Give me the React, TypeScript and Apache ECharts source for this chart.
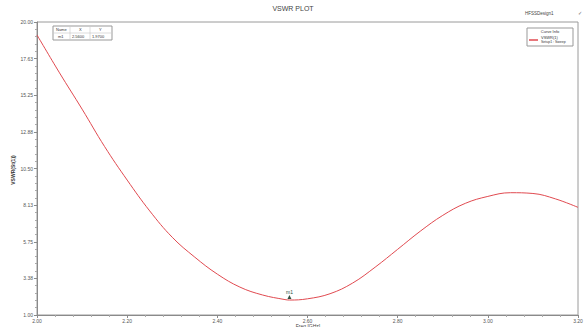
import React, { useEffect, useRef } from "react";
import * as echarts from "echarts";

const freqGHz = [2.0, 2.05, 2.1, 2.15, 2.2, 2.25, 2.3, 2.35, 2.4, 2.45, 2.5, 2.55, 2.56, 2.6, 2.65, 2.7, 2.75, 2.8, 2.85, 2.9, 2.95, 3.0, 3.05, 3.1, 3.15, 3.2];
const vswr = [19.16, 16.7, 14.35, 11.92, 9.75, 7.75, 6.04, 4.75, 3.65, 2.81, 2.3, 2.0, 1.97, 2.05, 2.38, 3.07, 4.1, 5.26, 6.43, 7.46, 8.24, 8.69, 8.93, 8.88, 8.53, 7.98];
const markerName = "m1";
const markerX = 2.56;
const markerY = 1.97;
const titleText = "VSWR PLOT";
const designName = "HFSSDesign1";
const curveName = "VSWR(1)";
const setupName = "Setup1 : Sweep";
const yTitle = "VSWR(St(1))";
const xTitle = "Freq [GHz]";

export default function App() {
  const ref = useRef<HTMLDivElement>(null);
  useEffect(() => {
    document.body.style.margin = "0";
    const chart = echarts.init(ref.current!, undefined, { renderer: "svg" });
    const font = "Liberation Sans";
    const lab = { fontFamily: font, fontSize: 5, color: "#555" };
    chart.setOption({
      animation: false,
      backgroundColor: "#ffffff",
      grid: { left: 37, right: 8, top: 22, bottom: 12, show: true, borderColor: "#9a9a9a", borderWidth: 1 },
      xAxis: {
        type: "value",
        min: 2.0,
        max: 3.2,
        interval: 0.2,
        axisLine: { lineStyle: { color: "#8a8a8a" } },
        axisTick: { show: true, length: 3, lineStyle: { color: "#8a8a8a" } },
        minorTick: { show: true, splitNumber: 5, length: 2, lineStyle: { color: "#aaa" } },
        splitLine: { show: false },
        axisLabel: { ...lab, margin: 3, formatter: (v: number) => v.toFixed(2) },
      },
      yAxis: {
        type: "value",
        min: 1,
        max: 20,
        interval: 2.375,
        axisLine: { lineStyle: { color: "#8a8a8a" } },
        axisTick: { show: true, length: 3, lineStyle: { color: "#8a8a8a" } },
        minorTick: { show: true, splitNumber: 5, length: 2, lineStyle: { color: "#aaa" } },
        splitLine: { show: false },
        axisLabel: { ...lab, margin: 4, formatter: (v: number) => v.toFixed(2) },
      },
      series: [
        {
          type: "line",
          data: freqGHz.map((f, i) => [f, vswr[i]]),
          smooth: 0.4,
          showSymbol: false,
          lineStyle: { color: "#e04a50", width: 1 },
          markPoint: {
            symbol: "triangle",
            symbolSize: 4,
            symbolOffset: [0, -3],
            itemStyle: { color: "#2f4f3f" },
            label: { show: true, position: "top", distance: 1, formatter: markerName, fontFamily: font, fontSize: 5, color: "#2f4f3f" },
            data: [{ coord: [markerX, markerY] }],
          },
        },
      ],
      graphic: [
        { type: "text", left: "center", top: 5, style: { text: titleText, fontFamily: font, fontSize: 7, fill: "#444" } },
        { type: "text", x: 525, y: 11, style: { text: designName, fontFamily: font, fontSize: 4.5, fill: "#444" } },
        { type: "text", x: 578, y: 11, style: { text: "✓", fontFamily: font, fontSize: 4.5, fill: "#666" } },
        {
          type: "text",
          x: 13,
          y: 170,
          rotation: Math.PI / 2,
          style: { text: yTitle, fontFamily: font, fontSize: 5, fontWeight: "bold", fill: "#333", align: "center", verticalAlign: "middle" },
        },
        { type: "text", x: 308, y: 323, style: { text: xTitle, fontFamily: font, fontSize: 5, fill: "#444", align: "center" } },
        // marker table
        { type: "rect", shape: { x: 53, y: 26, width: 59, height: 14 }, style: { fill: "#fff", stroke: "#999", lineWidth: 1 } },
        { type: "line", shape: { x1: 54, y1: 33, x2: 111, y2: 33 }, style: { stroke: "#bbb", lineWidth: 0.5 } },
        { type: "line", shape: { x1: 70, y1: 27, x2: 70, y2: 39 }, style: { stroke: "#bbb", lineWidth: 0.5 } },
        { type: "line", shape: { x1: 90, y1: 27, x2: 90, y2: 39 }, style: { stroke: "#bbb", lineWidth: 0.5 } },
        { type: "text", x: 56, y: 27.5, style: { text: "Name", fontFamily: font, fontSize: 4, fill: "#333" } },
        { type: "text", x: 79, y: 27.5, style: { text: "X", fontFamily: font, fontSize: 4, fill: "#333" } },
        { type: "text", x: 99, y: 27.5, style: { text: "Y", fontFamily: font, fontSize: 4, fill: "#333" } },
        { type: "text", x: 58, y: 34.5, style: { text: markerName, fontFamily: font, fontSize: 4, fill: "#333" } },
        { type: "text", x: 72, y: 34.5, style: { text: markerX.toFixed(4), fontFamily: font, fontSize: 4, fill: "#333" } },
        { type: "text", x: 92, y: 34.5, style: { text: markerY.toFixed(4), fontFamily: font, fontSize: 4, fill: "#333" } },
        // curve info
        { type: "rect", shape: { x: 527, y: 28, width: 46, height: 18 }, style: { fill: "#fff", stroke: "#999", lineWidth: 1 } },
        { type: "text", x: 550, y: 29.5, style: { text: "Curve Info", fontFamily: font, fontSize: 4, fill: "#333", align: "center" } },
        { type: "line", shape: { x1: 529, y1: 40, x2: 538, y2: 40 }, style: { stroke: "#e04a50", lineWidth: 1.5 } },
        { type: "text", x: 541, y: 35, style: { text: curveName, fontFamily: font, fontSize: 4, fill: "#333" } },
        { type: "text", x: 541, y: 40, style: { text: setupName, fontFamily: font, fontSize: 3.5, fill: "#333" } },
      ],
    });
    return () => chart.dispose();
  }, []);
  return <div ref={ref} style={{ width: 586, height: 327 }} />;
}
